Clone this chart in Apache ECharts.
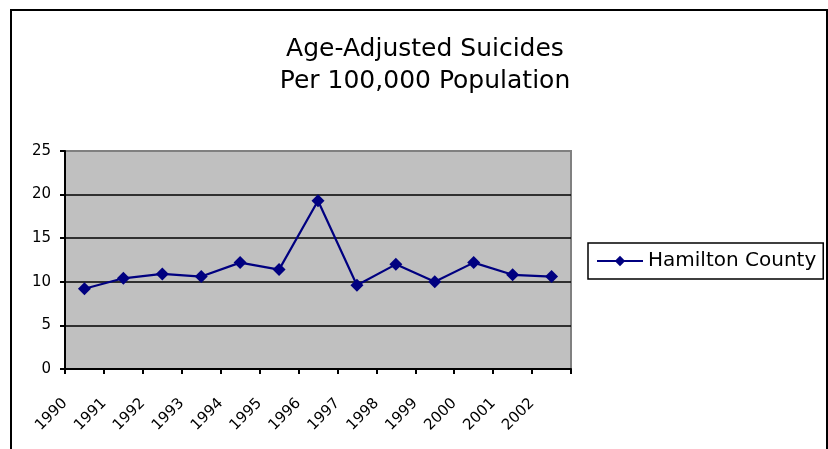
<!DOCTYPE html>
<html>
<head>
<meta charset="utf-8">
<script src="https://cdn.jsdelivr.net/npm/echarts@6/dist/echarts.min.js"></script>
<style>
html,body{margin:0;padding:0;background:#fff;}
#c{width:828px;height:449px;}
</style>
</head>
<body>
<div id="c"></div>
<script>
const years = ['1990','1991','1992','1993','1994','1995','1996','1997','1998','1999','2000','2001','2002'];
const hamilton = [9.2, 10.4, 10.9, 10.6, 12.2, 11.4, 19.3, 9.6, 12.0, 10.0, 12.2, 10.8, 10.6];
const seriesName = 'Hamilton County';
const titleLines = ['Age-Adjusted Suicides', 'Per 100,000 Population'];
const yTicks = {min: 0, max: 25, interval: 5};

const FONT = 'DejaVu Sans';
const chart = echarts.init(document.getElementById('c'), null, {renderer: 'canvas'});
chart.setOption({
  animation: false,
  backgroundColor: '#fff',
  title: {
    text: titleLines.join('\n'),
    left: 420, top: 28, textAlign: 'center',
    textStyle: {fontFamily: FONT, fontWeight: 'normal', fontSize: 25, lineHeight: 32, color: '#000'}
  },
  graphic: [{
    type: 'rect', shape: {x: 11, y: 10, width: 816, height: 470},
    style: {fill: 'none', stroke: '#000', lineWidth: 2}, silent: true
  }],
  legend: {
    left: 588, top: 243,
    padding: [8, 7, 8, 8],
    itemWidth: 46, itemHeight: 13, itemGap: 4,
    borderColor: '#000', borderWidth: 1.5,
    textStyle: {fontFamily: FONT, fontSize: 20, color: '#000', padding: [0,0,0,0]},
    data: [seriesName]
  },
  grid: {
    left: 65, top: 151, width: 506, height: 218,
    show: true, backgroundColor: '#C0C0C0', borderColor: '#808080', borderWidth: 2
  },
  xAxis: [{
    type: 'category', data: years, boundaryGap: true,
    axisLine: {lineStyle: {color: '#000', width: 2}},
    axisTick: {show: true, length: 5, lineStyle: {color: '#000', width: 2}},
    axisLabel: {show: false}
  }, {
    type: 'category', data: years.concat(['']), boundaryGap: false,
    position: 'bottom',
    axisLine: {show: false}, axisTick: {show: false},
    axisLabel: {rotate: 45, margin: 32, interval: 0, fontFamily: FONT, fontSize: 15, color: '#000'}
  }],
  yAxis: {
    type: 'value', min: yTicks.min, max: yTicks.max, interval: yTicks.interval,
    axisLine: {show: true, lineStyle: {color: '#000', width: 2}},
    axisTick: {show: true, length: 5, lineStyle: {color: '#000', width: 2}},
    axisLabel: {margin: 14, fontFamily: FONT, fontSize: 15, color: '#000'},
    splitLine: {show: true, lineStyle: {color: ['#000','#000','#000','#000','#000','#808080'], width: 1.5}}
  },
  series: [{
    name: seriesName, type: 'line', xAxisIndex: 0, data: hamilton,
    symbol: 'diamond', symbolSize: 13,
    lineStyle: {color: '#000080', width: 2.2},
    itemStyle: {color: '#000080'}
  }]
});
</script>
</body>
</html>
